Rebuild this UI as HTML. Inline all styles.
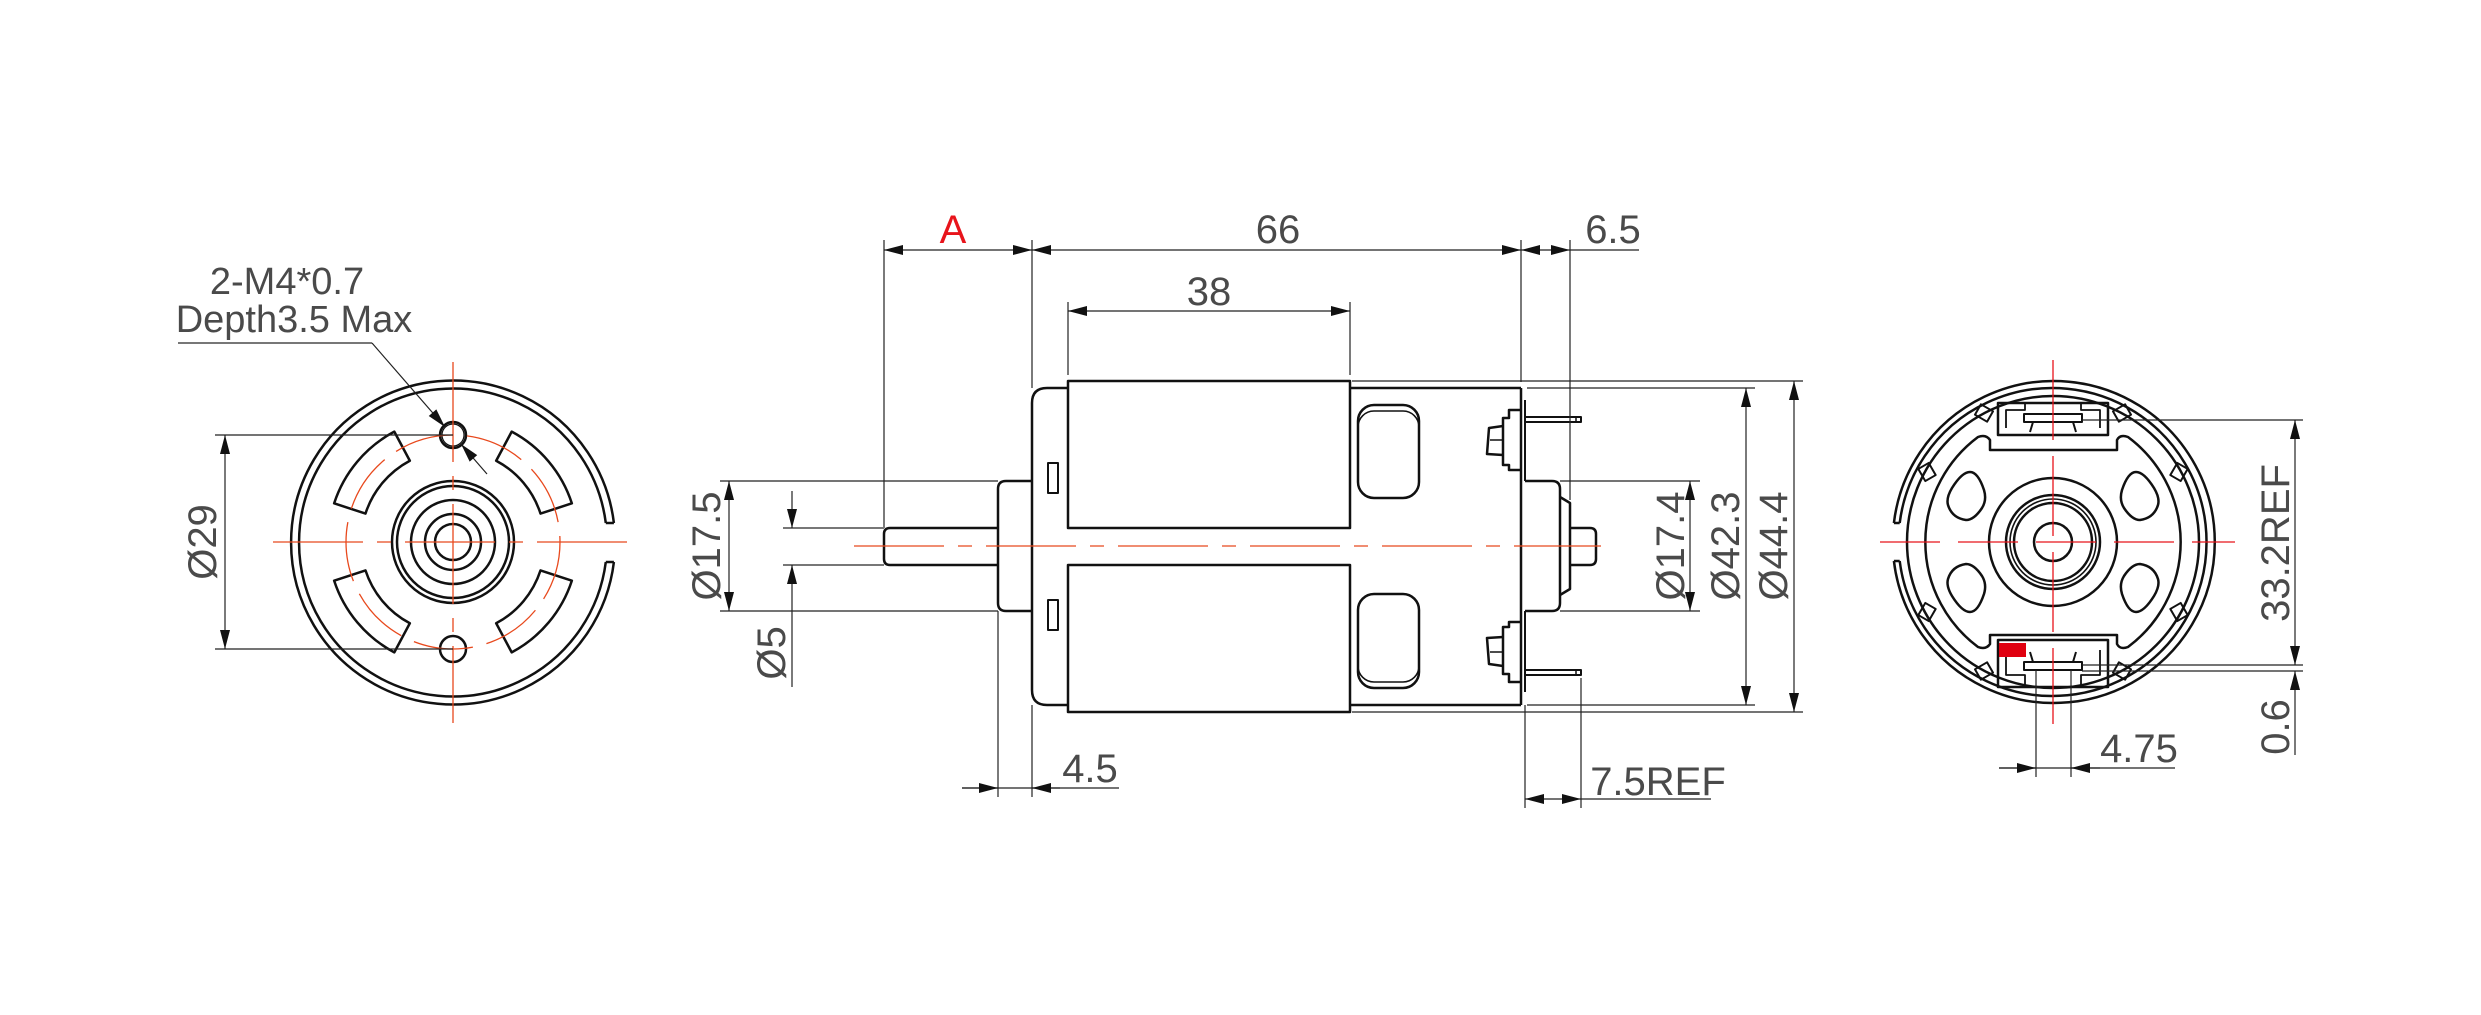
<!DOCTYPE html>
<html><head><meta charset="utf-8"><style>
html,body{margin:0;padding:0;background:#fff;}
svg{display:block;}
text{font-family:"Liberation Sans","Noto Sans CJK SC",sans-serif;fill:#4a4a4a;}
</style></head><body>
<svg width="2481" height="1015" viewBox="0 0 2481 1015" xmlns="http://www.w3.org/2000/svg">
<defs>
<marker id="ar" viewBox="-20 -6 22 12" markerWidth="22" markerHeight="12" refX="0" refY="0" markerUnits="userSpaceOnUse" orient="auto-start-reverse">
<path d="M0,0 L-19,-5 L-19,5 Z" fill="#111"/>
</marker>
</defs>

<!-- ============ LEFT VIEW ============ -->
<g fill="none" stroke="#111" stroke-width="2.5">
  <path d="M613.9,523 A162,162 0 1 0 613.9,562"/>
  <path d="M605.8,523 A154,154 0 1 0 605.8,562"/>
  <line x1="605.8" y1="523" x2="613.9" y2="523"/>
  <line x1="605.8" y1="562" x2="613.9" y2="562"/>
  <circle cx="453" cy="542" r="61"/>
  <circle cx="453" cy="542" r="56"/>
  <circle cx="453" cy="542" r="42"/>
  <circle cx="453" cy="542" r="28"/>
  <circle cx="453" cy="542" r="18"/>
  <circle cx="453" cy="435" r="13"/>
  <circle cx="453" cy="435" r="11" stroke-width="1.2"/>
  <circle cx="453" cy="649" r="13"/>
  <g stroke-linejoin="round">
    <path transform="translate(453 542) rotate(220)" d="M85.3,-34.5 L115.9,-46.8 A125,125 0 0 1 115.9,46.8 L85.3,34.5 A92,92 0 0 0 85.3,-34.5 Z"/>
    <path transform="translate(453 542) rotate(320)" d="M85.3,-34.5 L115.9,-46.8 A125,125 0 0 1 115.9,46.8 L85.3,34.5 A92,92 0 0 0 85.3,-34.5 Z"/>
    <path transform="translate(453 542) rotate(40)" d="M85.3,-34.5 L115.9,-46.8 A125,125 0 0 1 115.9,46.8 L85.3,34.5 A92,92 0 0 0 85.3,-34.5 Z"/>
    <path transform="translate(453 542) rotate(140)" d="M85.3,-34.5 L115.9,-46.8 A125,125 0 0 1 115.9,46.8 L85.3,34.5 A92,92 0 0 0 85.3,-34.5 Z"/>
  </g>
</g>
<g fill="none" stroke="#e8491d" stroke-width="1.3">
  <circle cx="453" cy="542" r="107" stroke-dasharray="60 14"/>
  <line x1="273" y1="542" x2="632" y2="542" stroke-dasharray="90 14 14 14"/>
  <line x1="453" y1="362" x2="453" y2="723" stroke-dasharray="100 14 14 14"/>
</g>
<g stroke="#222" stroke-width="1.2" fill="none">
  <line x1="178" y1="343" x2="372" y2="343" stroke="#777" stroke-width="2"/>
  <line x1="372" y1="343" x2="445" y2="427" marker-end="url(#ar)"/>
  <line x1="487" y1="474" x2="461" y2="444" marker-end="url(#ar)"/>
  <line x1="215" y1="435" x2="453" y2="435"/>
  <line x1="215" y1="649" x2="453" y2="649"/>
  <line x1="225" y1="435" x2="225" y2="649" marker-start="url(#ar)" marker-end="url(#ar)"/>
</g>
<text x="287" y="294" font-size="38" text-anchor="middle">2-M4*0.7</text>
<text x="294" y="332" font-size="38" text-anchor="middle">Depth3.5 Max</text>
<text x="0" y="0" font-size="40" text-anchor="middle" transform="translate(216 542) rotate(-90)">Ø29</text>

<!-- ============ MIDDLE VIEW ============ -->
<g fill="none" stroke="#111" stroke-width="2.5" stroke-linejoin="round">
  <path d="M998,528 L890,528 Q884,528 884,534 L884,559 Q884,565 890,565 L998,565"/>
  <path d="M1032,481 L1006,481 Q998,481 998,489 L998,603 Q998,611 1006,611 L1032,611"/>
  <path d="M1068,388 L1047,388 Q1032,388 1032,403 L1032,690 Q1032,705 1047,705 L1068,705"/>
  <rect x="1048" y="463" width="10" height="30" stroke-width="2"/>
  <rect x="1048" y="600" width="10" height="30" stroke-width="2"/>
  <rect x="1068" y="381" width="282" height="147"/>
  <rect x="1068" y="565" width="282" height="147"/>
  <line x1="1350" y1="388" x2="1521" y2="388"/>
  <line x1="1350" y1="705" x2="1521" y2="705"/>
  <line x1="1521" y1="388" x2="1521" y2="705"/>
  <line x1="1525" y1="400" x2="1525" y2="481" stroke-width="2"/>
  <line x1="1525" y1="611" x2="1525" y2="692" stroke-width="2"/>
  <rect x="1358" y="405" width="61" height="93" rx="16"/>
  <rect x="1358" y="411" width="61" height="87" rx="16" stroke-width="1.6"/>
  <rect x="1358" y="594" width="61" height="94" rx="16"/>
  <rect x="1358" y="594" width="61" height="88" rx="16" stroke-width="1.6"/>
  <path d="M1521,410 L1509,410 L1509,418 L1503,418 L1503,465 L1509,465 L1509,470 L1521,470"/>
  <path d="M1503,426 L1489,428 L1487,454 L1503,455"/>
  <line x1="1490" y1="440" x2="1503" y2="440" stroke-width="1.5"/>
  <path d="M1525,417 L1581,417 L1581,422 L1525,422" stroke-width="2"/>
  <line x1="1576" y1="417" x2="1576" y2="422" stroke-width="1.5"/>
  <path d="M1521,682 L1509,682 L1509,674 L1503,674 L1503,627 L1509,627 L1509,622 L1521,622"/>
  <path d="M1503,666 L1489,664 L1487,638 L1503,637"/>
  <line x1="1490" y1="652" x2="1503" y2="652" stroke-width="1.5"/>
  <path d="M1525,670 L1581,670 L1581,675 L1525,675" stroke-width="2"/>
  <line x1="1576" y1="670" x2="1576" y2="675" stroke-width="1.5"/>
  <path d="M1525,481 L1552,481 Q1560,481 1560,489 L1560,603 Q1560,611 1552,611 L1525,611"/>
  <path d="M1560,497 L1570,503 L1570,589 L1560,595"/>
  <path d="M1570,528 L1590,528 Q1596,528 1596,534 L1596,559 Q1596,565 1590,565 L1570,565"/>
</g>
<line x1="854" y1="546" x2="1601" y2="546" stroke="#e8491d" stroke-width="1.3" stroke-dasharray="90 14 14 14"/>
<g stroke="#222" stroke-width="1.2" fill="none">
  <line x1="884" y1="240" x2="884" y2="528"/>
  <line x1="1032" y1="240" x2="1032" y2="388"/>
  <line x1="1521" y1="240" x2="1521" y2="382"/>
  <line x1="1570" y1="240" x2="1570" y2="500"/>
  <line x1="884" y1="250" x2="1032" y2="250" marker-start="url(#ar)" marker-end="url(#ar)"/>
  <line x1="1032" y1="250" x2="1521" y2="250" marker-start="url(#ar)" marker-end="url(#ar)"/>
  <line x1="1521" y1="250" x2="1570" y2="250" marker-start="url(#ar)" marker-end="url(#ar)"/>
  <line x1="1570" y1="250" x2="1639" y2="250"/>
  <line x1="1068" y1="302" x2="1068" y2="375"/>
  <line x1="1350" y1="302" x2="1350" y2="375"/>
  <line x1="1068" y1="311" x2="1350" y2="311" marker-start="url(#ar)" marker-end="url(#ar)"/>
  <line x1="720" y1="481" x2="998" y2="481"/>
  <line x1="720" y1="611" x2="998" y2="611"/>
  <line x1="729" y1="481" x2="729" y2="611" marker-start="url(#ar)" marker-end="url(#ar)"/>
  <line x1="783" y1="528" x2="884" y2="528" stroke="#777" stroke-width="2"/>
  <line x1="783" y1="565" x2="884" y2="565" stroke="#777" stroke-width="2"/>
  <line x1="792" y1="491" x2="792" y2="528" marker-end="url(#ar)"/>
  <line x1="792" y1="687" x2="792" y2="565" marker-end="url(#ar)"/>
  <line x1="998" y1="611" x2="998" y2="797"/>
  <line x1="1032" y1="705" x2="1032" y2="797"/>
  <line x1="962" y1="788" x2="1119" y2="788"/>
  <line x1="962" y1="788" x2="998" y2="788" marker-end="url(#ar)"/>
  <line x1="1060" y1="788" x2="1032" y2="788" marker-end="url(#ar)"/>
  <line x1="1560" y1="481" x2="1700" y2="481"/>
  <line x1="1560" y1="611" x2="1700" y2="611"/>
  <line x1="1690" y1="481" x2="1690" y2="611" marker-start="url(#ar)" marker-end="url(#ar)"/>
  <line x1="1527" y1="388" x2="1755" y2="388"/>
  <line x1="1527" y1="705" x2="1755" y2="705"/>
  <line x1="1746" y1="388" x2="1746" y2="705" marker-start="url(#ar)" marker-end="url(#ar)"/>
  <line x1="1352" y1="381" x2="1803" y2="381"/>
  <line x1="1352" y1="712" x2="1803" y2="712"/>
  <line x1="1794" y1="381" x2="1794" y2="712" marker-start="url(#ar)" marker-end="url(#ar)"/>
  <line x1="1525" y1="705" x2="1525" y2="808"/>
  <line x1="1581" y1="678" x2="1581" y2="808"/>
  <line x1="1525" y1="799" x2="1581" y2="799" marker-start="url(#ar)" marker-end="url(#ar)"/>
  <line x1="1581" y1="799" x2="1711" y2="799"/>
</g>
<text x="953" y="243" font-size="40" text-anchor="middle" style="fill:#e8141b">A</text>
<text x="1278" y="243" font-size="40" text-anchor="middle">66</text>
<text x="1613" y="243" font-size="40" text-anchor="middle">6.5</text>
<text x="1209" y="305" font-size="40" text-anchor="middle">38</text>
<text x="1090" y="782" font-size="40" text-anchor="middle">4.5</text>
<text x="1658" y="795" font-size="40" text-anchor="middle">7.5REF</text>
<text font-size="40" text-anchor="middle" transform="translate(720 546) rotate(-90)">Ø17.5</text>
<text font-size="40" text-anchor="middle" transform="translate(785 653) rotate(-90)">Ø5</text>
<text font-size="40" text-anchor="middle" transform="translate(1684 546) rotate(-90)">Ø17.4</text>
<text font-size="40" text-anchor="middle" transform="translate(1739 546) rotate(-90)">Ø42.3</text>
<text font-size="40" text-anchor="middle" transform="translate(1787 546) rotate(-90)">Ø44.4</text>

<!-- ============ RIGHT VIEW ============ -->
<g fill="none" stroke="#111" stroke-width="2.5" stroke-linejoin="round">
  <path d="M1893.9,523 A161,161 0 1 1 1893.9,561"/>
  <path d="M1899.7,523 A154,154 0 1 1 1899.7,561"/>
  <line x1="1893.9" y1="523" x2="1899.7" y2="523"/>
  <line x1="1893.9" y1="561" x2="1899.7" y2="561"/>
  <circle cx="2053" cy="542" r="146"/>
  <path d="M1990,450 L2117,450 L2117,440 Q2120,434 2128,437 A131,131 0 0 1 2128,647 Q2120,650 2117,644 L2117,635 L1990,635 L1990,644 Q1986,650 1978,647 A131,131 0 0 1 1978,437 Q1986,434 1990,440 Z"/>
  <circle cx="2053" cy="542" r="64"/>
  <circle cx="2053" cy="542" r="47"/>
  <circle cx="2053" cy="542" r="43" stroke-width="1.6"/>
  <circle cx="2053" cy="542" r="39"/>
  <circle cx="2053" cy="542" r="19"/>
  <path d="M1948,505 Q1946,498 1952,488 Q1962,472 1970,472 Q1978,472 1984,490 Q1987,500 1982,508 Q1974,520 1966,520 Q1952,518 1948,505 Z"/>
  <path d="M2158,505 Q2160,498 2154,488 Q2144,472 2136,472 Q2128,472 2122,490 Q2119,500 2124,508 Q2132,520 2140,520 Q2154,518 2158,505 Z"/>
  <path d="M1948,579 Q1946,586 1952,596 Q1962,612 1970,612 Q1978,612 1984,594 Q1987,584 1982,576 Q1974,564 1966,564 Q1952,566 1948,579 Z"/>
  <path d="M2158,579 Q2160,586 2154,596 Q2144,612 2136,612 Q2128,612 2122,594 Q2119,584 2124,576 Q2132,564 2140,564 Q2154,566 2158,579 Z"/>
  <rect x="1998" y="403" width="110" height="32"/>
  <path d="M2006,428 L2006,410 L2025,410 L2025,403 M2100,428 L2100,410 L2081,410 L2081,403" stroke-width="1.8"/>
  <rect x="2024" y="414" width="58" height="8" stroke-width="2"/>
  <path d="M2033,422 L2030,432 M2073,422 L2076,432" stroke-width="2"/>
  <rect x="1998" y="640" width="110" height="47"/>
  <path d="M2006,650 L2006,675 L2025,675 L2025,687 M2100,650 L2100,675 L2081,675 L2081,687" stroke-width="1.8"/>
  <rect x="2024" y="662" width="58" height="8" stroke-width="2"/>
  <path d="M2033,662 L2030,652 M2073,662 L2076,652" stroke-width="2"/>
  <g stroke-width="2">
    <rect x="-6" y="-7" width="12" height="14" transform="translate(1984 413) rotate(-60)"/>
    <rect x="-6" y="-7" width="12" height="14" transform="translate(2122 413) rotate(60)"/>
    <rect x="-6" y="-7" width="12" height="14" transform="translate(1927 472) rotate(-30)"/>
    <rect x="-6" y="-7" width="12" height="14" transform="translate(2179 472) rotate(30)"/>
    <rect x="-6" y="-7" width="12" height="14" transform="translate(1927 612) rotate(30)"/>
    <rect x="-6" y="-7" width="12" height="14" transform="translate(2179 612) rotate(-30)"/>
    <rect x="-6" y="-7" width="12" height="14" transform="translate(1984 671) rotate(60)"/>
    <rect x="-6" y="-7" width="12" height="14" transform="translate(2122 671) rotate(-60)"/>
  </g>
</g>
<rect x="1999" y="643" width="27" height="14" fill="#e00010"/>
<g fill="none" stroke="#e8141b" stroke-width="1.3">
  <line x1="1880" y1="542" x2="2235" y2="542" stroke-dasharray="60 18"/>
  <line x1="2053" y1="360" x2="2053" y2="724" stroke-dasharray="80 16"/>
</g>
<g stroke="#222" stroke-width="1.2" fill="none">
  <line x1="2082" y1="420" x2="2303" y2="420"/>
  <line x1="2082" y1="665" x2="2303" y2="665"/>
  <line x1="2082" y1="671" x2="2303" y2="671"/>
  <line x1="2295" y1="420" x2="2295" y2="665" marker-start="url(#ar)" marker-end="url(#ar)"/>
  <line x1="2295" y1="755" x2="2295" y2="671" marker-end="url(#ar)"/>
  <line x1="2036" y1="670" x2="2036" y2="777"/>
  <line x1="2071" y1="670" x2="2071" y2="777"/>
  <line x1="1999" y1="768" x2="2175" y2="768"/>
  <line x1="1999" y1="768" x2="2036" y2="768" marker-end="url(#ar)"/>
  <line x1="2100" y1="768" x2="2071" y2="768" marker-end="url(#ar)"/>
</g>
<text x="2139" y="762" font-size="40" text-anchor="middle">4.75</text>
<text font-size="40" text-anchor="middle" transform="translate(2289 543) rotate(-90)">33.2REF</text>
<text font-size="40" text-anchor="middle" transform="translate(2289 727) rotate(-90)">0.6</text>
</svg>
</body></html>
